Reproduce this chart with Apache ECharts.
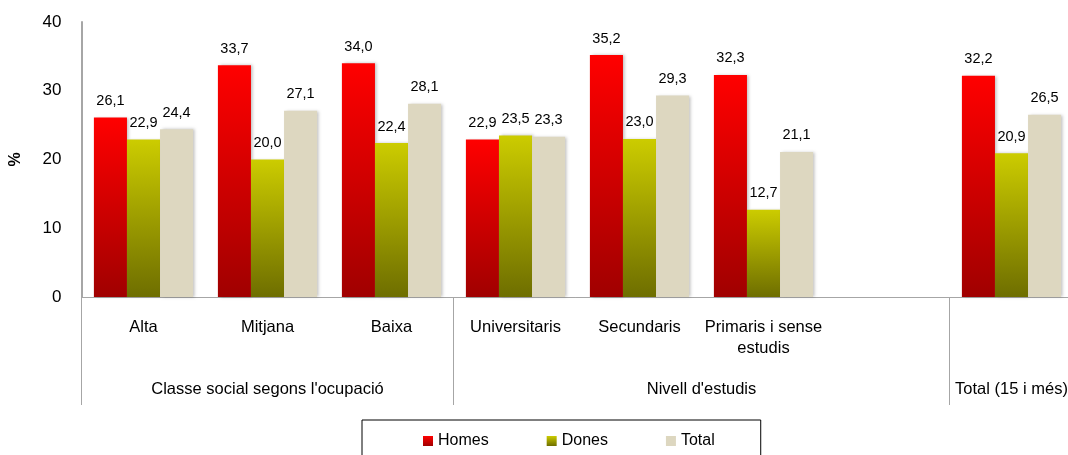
<!DOCTYPE html>
<html>
<head>
<meta charset="utf-8">
<script src="https://cdn.jsdelivr.net/npm/echarts@6/dist/echarts.min.js"></script>
<style>
  html, body { margin: 0; padding: 0; background: #fff; }
  #chart { width: 1068px; height: 455px; }
</style>
</head>
<body>
<div id="chart"></div>
<script>
// categories and values
const categories = ["Alta", "Mitjana", "Baixa", "Universitaris", "Secundaris", "Primaris i sense\nestudis", "", ""];
const homes = [26.1, 33.7, 34.0, 22.9, 35.2, 32.3, null, 32.2];
const dones = [22.9, 20.0, 22.4, 23.5, 23.0, 12.7, null, 20.9];
const total = [24.4, 27.1, 28.1, 23.3, 29.3, 21.1, null, 26.5];

// group labels sit on a value axis (0..8 = category slots)
const groupNames = ["Classe social segons l'ocupació", "Nivell d'estudis", "Total (15 i més)"];
const groupCenters = [1.5, 5, 7.5];
const groupBreaks = [0, 3, 7];

const font = "Liberation Sans, Arial, sans-serif";

function grad(top, bottom) {
    return new echarts.graphic.LinearGradient(0, 0, 0, 1, [
        { offset: 0, color: top },
        { offset: 1, color: bottom }
    ]);
}

const labelOpt = {
    show: true,
    position: "top",
    distance: 9,
    color: "#000",
    fontFamily: font,
    fontSize: 14.5,
    formatter: p => p.value == null ? "" : p.value.toFixed(1).replace(".", ",")
};

const shadow = { shadowColor: "rgba(0,0,0,0.25)", shadowBlur: 3, shadowOffsetX: 2 };

const chart = echarts.init(document.getElementById("chart"));
chart.setOption({
    animation: false,
    textStyle: { fontFamily: font },
    // plot runs past the right edge of the window, as in the reference
    grid: { left: 81.5, top: 22, height: 275, width: 992, containLabel: false, outerBoundsMode: "none" },
    legend: {
        left: 362,
        top: 420,
        padding: [13, 46, 13, 61],
        itemGap: 58,
        itemWidth: 10,
        itemHeight: 10,
        borderColor: "#000",
        borderWidth: 1,
        borderRadius: 0,
        icon: "rect",
        textStyle: { fontSize: 16, color: "#000", fontFamily: font },
        data: ["Homes", "Dones", "Total"]
    },
    xAxis: [{
        type: "category",
        data: categories,
        axisLine: { lineStyle: { color: "#a6a6a6", width: 1 } },
        axisTick: { show: false },
        axisLabel: { interval: 0, color: "#000", fontSize: 16.5, margin: 20, lineHeight: 21, fontFamily: font }
    }, {
        type: "value",
        position: "bottom",
        min: 0,
        max: 8,
        splitLine: { show: false },
        axisLine: { show: false },
        axisTick: {
            show: true,
            length: 108,
            customValues: groupBreaks,
            lineStyle: { color: "#a6a6a6", width: 1 }
        },
        axisLabel: {
            show: true,
            customValues: groupCenters,
            margin: 84,
            color: "#000",
            fontSize: 16.5,
            fontFamily: font,
            formatter: v => groupNames[groupCenters.indexOf(v)] || ""
        }
    }],
    yAxis: {
        type: "value",
        min: 0,
        max: 40,
        interval: 10,
        name: "%",
        nameLocation: "middle",
        nameGap: 58,
        nameRotate: 90,
        nameTextStyle: { fontSize: 16, fontWeight: "bold", color: "#000", fontFamily: font },
        splitLine: { show: false },
        axisLine: { show: true, lineStyle: { color: "#a6a6a6", width: 2 } },
        axisTick: { show: false },
        axisLabel: { color: "#000", fontSize: 17, margin: 20, fontFamily: font }
    },
    series: [{
        name: "Homes",
        type: "bar",
        data: homes,
        barGap: 0,
        barCategoryGap: "20%",
        itemStyle: Object.assign({ color: grad("#ff0000", "#a00000") }, shadow),
        label: labelOpt
    }, {
        name: "Dones",
        type: "bar",
        data: dones,
        itemStyle: Object.assign({ color: grad("#cccc00", "#6e6e00") }, shadow),
        label: labelOpt
    }, {
        name: "Total",
        type: "bar",
        data: total,
        itemStyle: Object.assign({ color: "#ddd7c0" }, shadow),
        label: labelOpt
    }]
});
</script>
</body>
</html>
